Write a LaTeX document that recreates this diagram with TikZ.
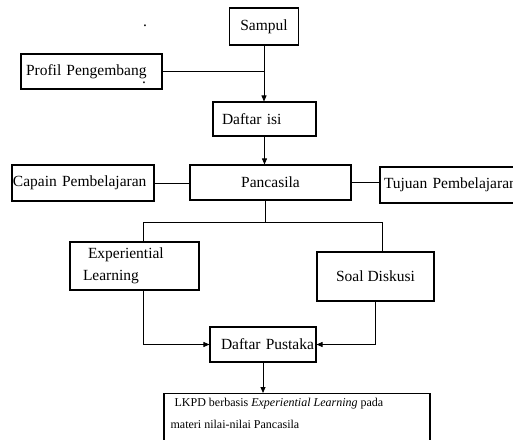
\documentclass[tikz,border=0pt]{standalone}
\usepackage{fontspec}
\setmainfont{Liberation Serif}
\usetikzlibrary{arrows.meta}
\begin{document}
\begin{tikzpicture}[x=1pt,y=-1pt,
  txt/.style={font=\fontsize{15.5}{22}\selectfont},
  box/.style={txt, draw, line width=1.1pt, inner sep=0pt},
  lbox/.style={box, align=left},
  link/.style={line width=0.8pt},
  arr/.style={link, -{Triangle[length=6pt,width=5pt]}},
]
\useasboundingbox (0,0) rectangle (513,439);
\clip (0,0) rectangle (513,439);

\node[box, minimum width=69pt, minimum height=37pt] (sampul) at (264,26.5) {Sampul};
\node[lbox, text width=141pt, minimum height=35pt] (profil) at (91.5,71.5) {\hspace*{5pt}Profil Pengembang};
\node[lbox, text width=103pt, minimum height=34pt] (disi) at (264.5,119) {\hspace*{9pt}Daftar isi};
\node[box, minimum width=161pt, minimum height=35pt] (panc) at (270.5,182.5) {Pancasila};
\node[lbox, text width=142pt, minimum height=36pt] (capain) at (83,183) {\hspace*{1pt}Capain Pembelajaran};
\node[lbox, text width=150pt, minimum height=36pt] (tujuan) at (455,185) {\hspace*{4pt}Tujuan Pembelajaran};
\node[lbox, text width=129pt, minimum height=48pt] (exp) at (134.5,266) {\hspace*{18pt}Experiential\\\hspace*{13pt}Learning};
\node[box, minimum width=117pt, minimum height=49pt] (soal) at (375.5,276.5) {Soal Diskusi};
\node[lbox, text width=106pt, minimum height=35pt] (dp) at (263,344.5) {\hspace*{11pt}Daftar Pustaka};
\node[box, minimum width=266pt, minimum height=60pt, anchor=north] (lkpd) at (297,393) {};
\node[font=\fontsize{12}{22}\selectfont, anchor=north west, align=left, inner sep=0pt] (lkpdtext) at ([xshift=7pt,yshift=-5pt]lkpd.north west)
  {\hspace*{4pt}LKPD berbasis \textit{Experiential Learning} pada\\materi nilai-nilai Pancasila};

\node[txt, anchor=base, inner sep=0pt] (dotA) at (145,26) {.};
\node[txt, anchor=base, inner sep=0pt] (dotB) at (144,83) {.};

\coordinate (j) at (265,222);
\coordinate (jl) at (143,222);
\coordinate (jr) at (382,222);

\draw[arr] (sampul.south) -- (sampul.south |- disi.north);
\draw[link] (profil.east) -- (profil.east -| sampul.south);
\draw[arr] (disi.south) -- (disi.south |- panc.north);
\draw[link] (capain.east) -- (capain.east -| panc.west);
\draw[link] (panc.east) -- (panc.east -| tujuan.west);
\draw[link] (panc.south -| j) -- (j);
\draw[link] (jl) -- (jr);
\draw[link] (jl) -- (jl |- exp.north);
\draw[link] (jr) -- (jr |- soal.north);
\draw[arr] (jl |- exp.south) -- (jl |- dp.west) -- (dp.west);
\draw[arr] (soal.south) -- (soal.south |- dp.east) -- (dp.east);
\draw[arr] (dp.south) -- (dp.south |- lkpd.north);
\end{tikzpicture}
\end{document}
